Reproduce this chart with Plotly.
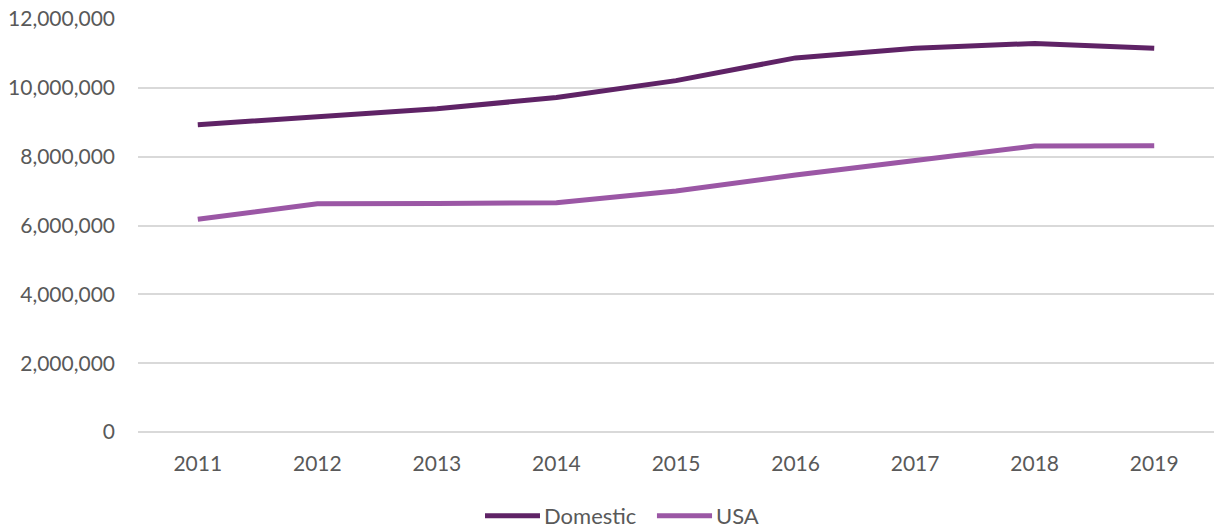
import plotly.graph_objects as go

years = ["2011", "2012", "2013", "2014", "2015", "2016", "2017", "2018", "2019"]
domestic = [8930000, 9170000, 9390000, 9720000, 10210000, 10870000, 11150000, 11290000, 11150000]
usa = [6180000, 6630000, 6640000, 6660000, 7000000, 7470000, 7890000, 8310000, 8320000]
y_ticks = [0, 2000000, 4000000, 6000000, 8000000, 10000000, 12000000]

series = [("Domestic", domestic, "#5F2366"), ("USA", usa, "#9B57A5")]

FONT = "Lato"
TEXT = "#595959"

fig = go.Figure()
for name, values, color in series:
    fig.add_trace(go.Scatter(x=years, y=values, name=name, mode="lines",
                             line=dict(color=color, width=5), showlegend=False))

# Legend row below the axis: a short line swatch followed by the series name
legend_y = -0.203
legend_x = [(0.3225, 0.3736), (0.4823, 0.5335)]
for (name, _, color), (x0, x1) in zip(series, legend_x):
    fig.add_shape(type="line", xref="paper", yref="paper", x0=x0, x1=x1,
                  y0=legend_y, y1=legend_y, line=dict(color=color, width=5))
    fig.add_annotation(xref="paper", yref="paper", x=x1 + 0.002, y=legend_y,
                       text=name, showarrow=False, xanchor="left", yanchor="middle",
                       font=dict(family=FONT, size=22, color=TEXT))

fig.update_layout(
    width=1214, height=531,
    margin=dict(l=138, r=0, t=19, b=99),
    paper_bgcolor="white", plot_bgcolor="white",
    font=dict(family=FONT, size=21, color=TEXT),
    xaxis=dict(type="category", range=[-0.5, 8.5], showgrid=False, zeroline=False,
               showline=False, ticks="", ticklabelstandoff=17,
               tickfont=dict(size=21, color=TEXT)),
    yaxis=dict(range=[0, 12000000], tickvals=y_ticks, tickformat=",d",
               showgrid=True, gridcolor="#D9D9D9", gridwidth=1.5,
               zeroline=True, zerolinecolor="#D9D9D9", zerolinewidth=1.5,
               showline=False, ticks="", ticklabelstandoff=22,
               tickfont=dict(size=21, color=TEXT)),
)

fig.write_html("out.html")
